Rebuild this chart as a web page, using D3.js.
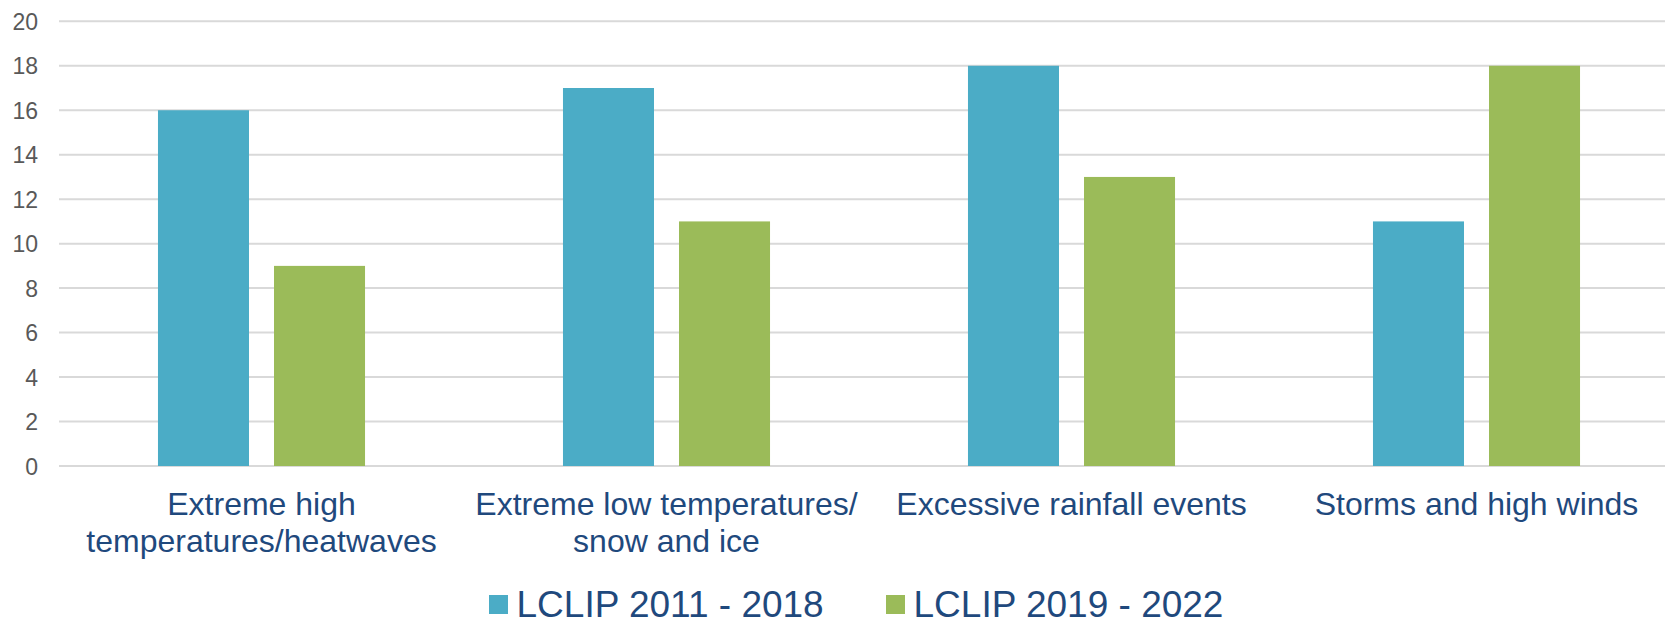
<!DOCTYPE html>
<html>
<head>
<meta charset="utf-8">
<script src="https://cdn.jsdelivr.net/npm/d3@7"></script>
<style>
  html, body { margin: 0; padding: 0; background: #fff; }
  svg { display: block; font-family: "Liberation Sans", Arial, sans-serif; }
</style>
</head>
<body>
<svg width="1665" height="620"></svg>
<script>
// data
var categories = [
  "Extreme high temperatures/heatwaves",
  "Extreme low temperatures/ snow and ice",
  "Excessive rainfall events",
  "Storms and high winds"
];
var categoryLines = [
  ["Extreme high", "temperatures/heatwaves"],
  ["Extreme low temperatures/", "snow and ice"],
  ["Excessive rainfall events"],
  ["Storms and high winds"]
];
var seriesNames = ["LCLIP 2011 - 2018", "LCLIP 2019 - 2022"];
var values2011 = [16, 17, 18, 11];
var values2019 = [9, 11, 13, 18];
var yTicks = [0, 2, 4, 6, 8, 10, 12, 14, 16, 18, 20];
var colors = ["#4BACC6", "#9BBB59"];

var svg = d3.select("svg"),
    plotLeft = 59,
    plotRight = 1679,   // plot runs past the right edge of the picture
    plotTop = 21.3,
    plotBottom = 466;

var y = d3.scaleLinear()
  .domain([0, 20])
  .range([plotBottom, plotTop]);

var x0 = d3.scaleBand()
  .domain(categories)
  .range([plotLeft, plotRight])
  .paddingInner(0)
  .paddingOuter(0);

var x1 = d3.scaleBand()
  .domain(seriesNames)
  .range([0, x0.bandwidth()])
  .paddingInner(0.2155)
  .paddingOuter(0.853);

// gridlines
svg.append("g")
  .selectAll("line")
  .data(yTicks).enter()
  .append("line")
  .attr("x1", plotLeft)
  .attr("x2", plotRight)
  .attr("y1", function(d) { return y(d); })
  .attr("y2", function(d) { return y(d); })
  .attr("stroke", "#D9D9D9")
  .attr("stroke-width", 2);

// y axis labels
var yAxis = svg.append("g")
  .attr("transform", "translate(" + plotLeft + ",0)")
  .call(d3.axisLeft(y).tickValues(yTicks).tickSize(0).tickPadding(21));
yAxis.select(".domain").remove();
yAxis.selectAll("text")
  .attr("font-size", 23)
  .attr("font-family", "Liberation Sans, Arial, sans-serif")
  .attr("fill", "#595959")
  .attr("dy", "0.35em");

// bars
var rows = categories.map(function(c, i) {
  return { cat: c, vals: [values2011[i], values2019[i]] };
});

var groups = svg.append("g")
  .selectAll("g")
  .data(rows).enter()
  .append("g")
  .attr("transform", function(d) { return "translate(" + x0(d.cat) + ",0)"; });

groups.selectAll("rect")
  .data(function(d) { return d.vals.map(function(v, j) { return { s: seriesNames[j], v: v, j: j }; }); })
  .enter()
  .append("rect")
  .attr("x", function(d) { return x1(d.s); })
  .attr("y", function(d) { return y(d.v); })
  .attr("width", x1.bandwidth())
  .attr("height", function(d) { return y(0) - y(d.v); })
  .attr("fill", function(d) { return colors[d.j]; });

// category labels
var labels = svg.append("g")
  .selectAll("text")
  .data(categories).enter()
  .append("text")
  .attr("text-anchor", "middle")
  .attr("font-size", 32)
  .attr("fill", "#1F497D")
  .attr("x", function(d) { return x0(d) + x0.bandwidth() / 2; })
  .attr("y", 515);

labels.selectAll("tspan")
  .data(function(d, i) { return categoryLines[i]; })
  .enter()
  .append("tspan")
  .attr("x", function() { return d3.select(this.parentNode).attr("x"); })
  .attr("dy", function(d, i) { return i === 0 ? 0 : 37; })
  .text(function(d) { return d; });

// legend
var legendX = [489, 886];
var legend = svg.append("g")
  .selectAll("g")
  .data(seriesNames).enter()
  .append("g")
  .attr("transform", function(d, i) { return "translate(" + legendX[i] + ",0)"; });

legend.append("rect")
  .attr("x", 0)
  .attr("y", 595)
  .attr("width", 19)
  .attr("height", 19)
  .attr("fill", function(d, i) { return colors[i]; });

legend.append("text")
  .attr("x", 27.5)
  .attr("y", 617)
  .attr("font-size", 37)
  .attr("fill", "#1F497D")
  .text(function(d) { return d; });
</script>
</body>
</html>
